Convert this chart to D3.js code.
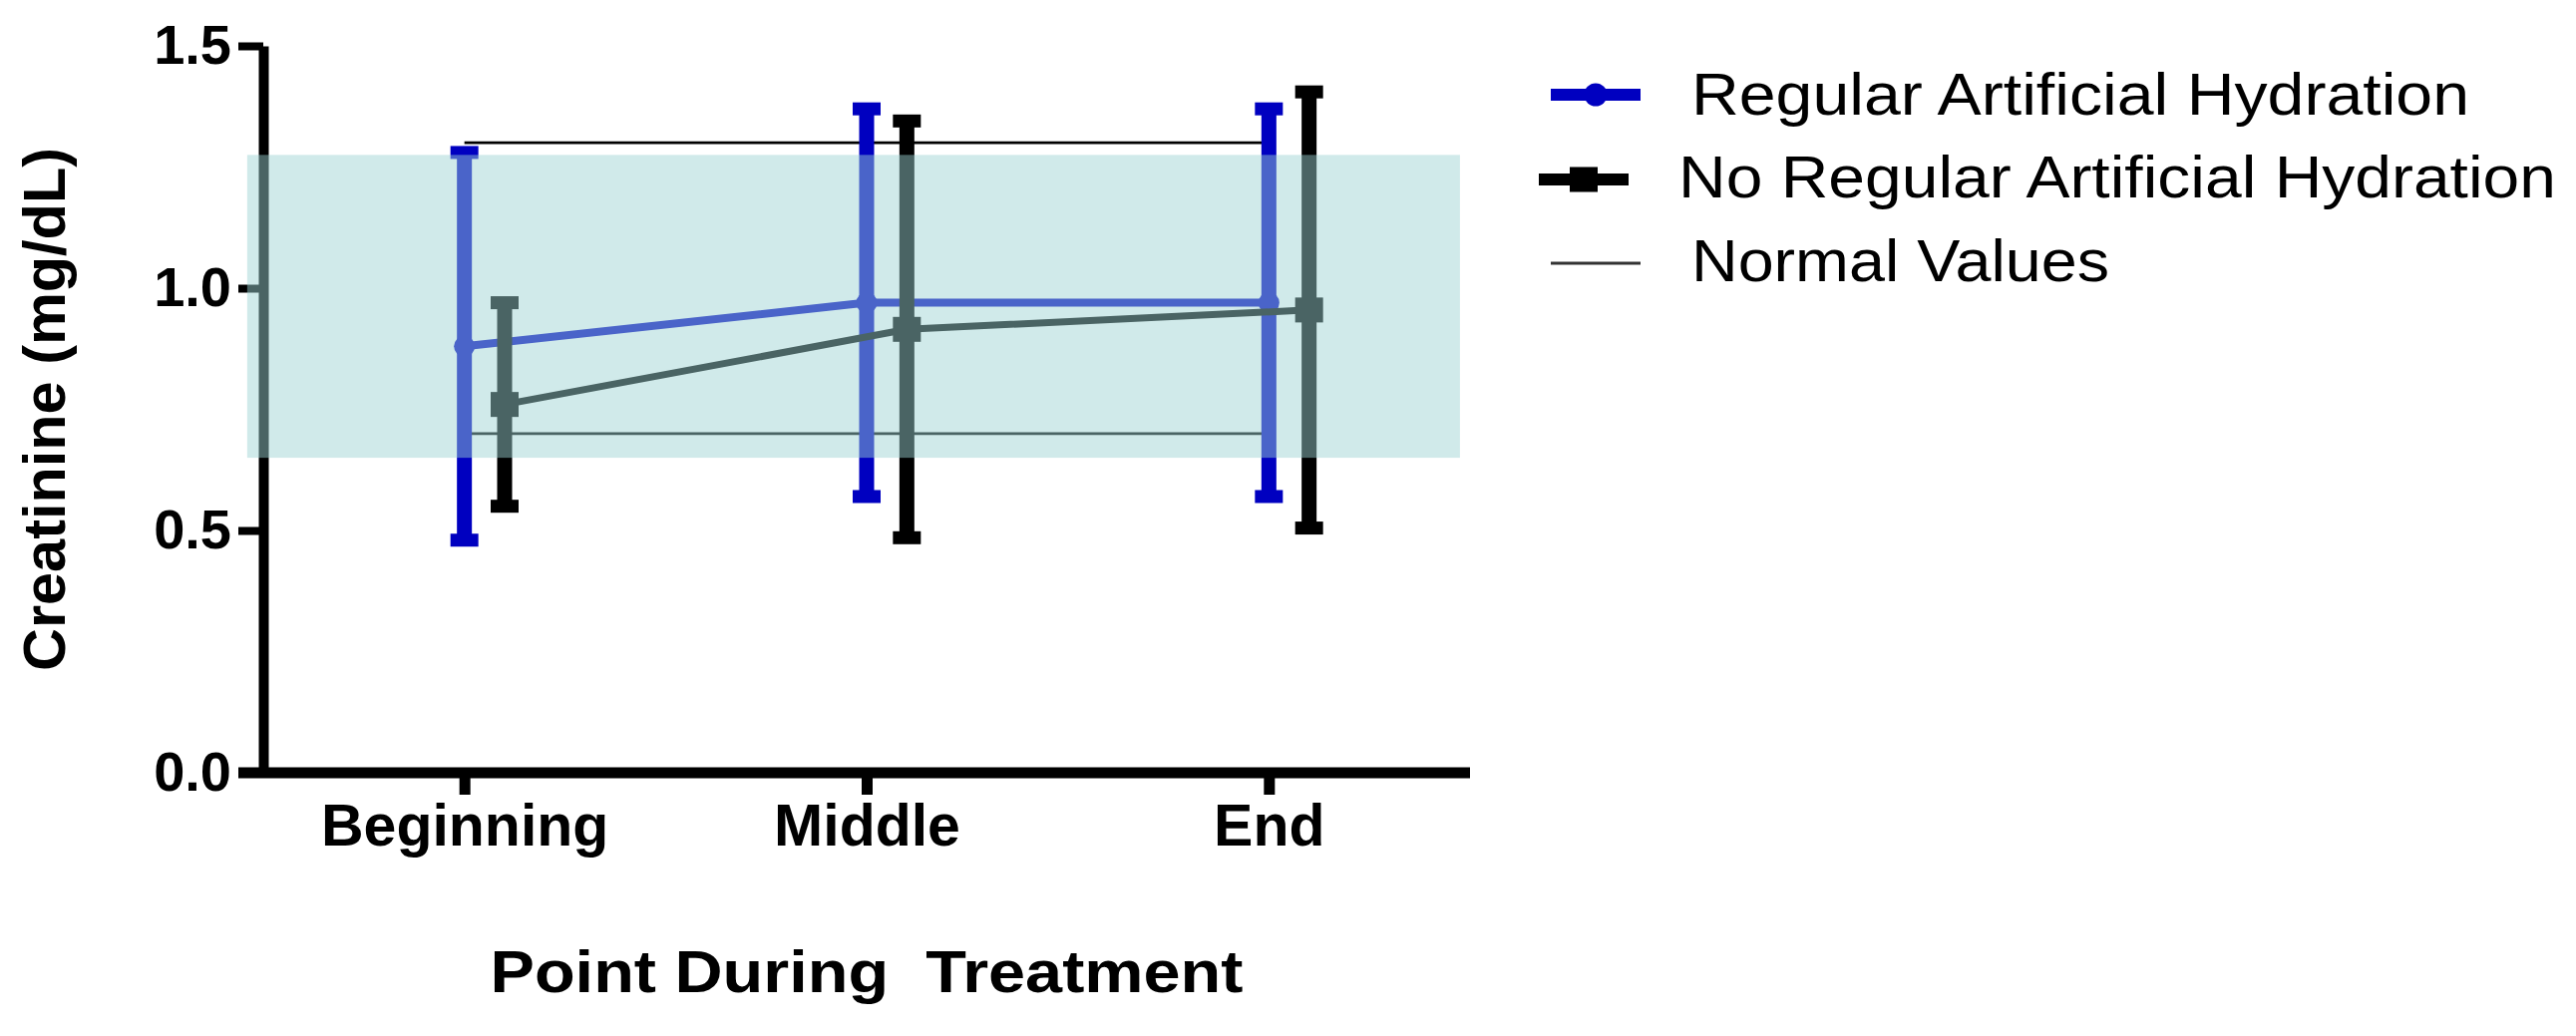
<!DOCTYPE html>
<html>
<head>
<meta charset="utf-8">
<script src="https://cdn.jsdelivr.net/npm/d3@7"></script>
<style>
  body { margin: 0; background: #fff; }
  svg { display: block; }
  text { font-family: "Liberation Sans", Arial, sans-serif; }
</style>
</head>
<body>
<svg id="chart" width="2583" height="1039"></svg>
<script>
// Creatinine (mg/dL) at three points during treatment, mean ± SD
const categories = ["Beginning", "Middle", "End"];
const hydratedMean = [0.88, 0.97, 0.97];
const hydratedSD = [0.40, 0.40, 0.40];
const nonHydratedMean = [0.76, 0.915, 0.955];
const nonHydratedSD = [0.21, 0.43, 0.45];
const normalLimits = [0.70, 1.30];
const normalBand = [0.65, 1.275];
const normalBandSpan = [-0.54, 2.475];
const yTicks = [0, 0.5, 1.0, 1.5];
const seriesNames = ["Regular Artificial Hydration", "No Regular Artificial Hydration", "Normal Values"];

const svg = d3.select("#chart");

const x = d3.scaleLinear().domain([-0.5, 2.5]).range([264, 1474]);
const y = d3.scaleLinear().domain([0, 1.5]).range([775, 46]);

const BLUE = "#0000c0";
const BLACK = "#000000";

// Normal value reference lines (Beginning to End)
svg.append("g").selectAll("line")
  .data(normalLimits)
  .join("line")
  .attr("x1", x(0)).attr("x2", x(categories.length - 1))
  .attr("y1", d => y(d)).attr("y2", d => y(d))
  .attr("stroke", "#000").attr("stroke-width", 2.7);

// Axes
const yAxis = d3.axisLeft(y)
  .tickValues(yTicks)
  .tickFormat(d3.format(".1f"))
  .tickSize(25)
  .tickSizeOuter(0)
  .tickPadding(7);

const gy = svg.append("g")
  .attr("transform", `translate(${x.range()[0]},0)`)
  .call(yAxis);
gy.select(".domain").attr("stroke", "#000").attr("stroke-width", 10);
gy.selectAll(".tick line").attr("stroke", "#000").attr("stroke-width", 8);
gy.selectAll(".tick text")
  .attr("fill", "#000")
  .style("font-size", "56px")
  .style("font-weight", "bold");

const xAxis = d3.axisBottom(x)
  .tickValues(d3.range(categories.length))
  .tickFormat(i => categories[i])
  .tickSize(22)
  .tickSizeOuter(0)
  .tickPadding(9);

const gx = svg.append("g")
  .attr("transform", `translate(0,${y(0)})`)
  .call(xAxis);
gx.select(".domain")
  .attr("d", `M${x.range()[0] - 25},0H${x.range()[1]}`)
  .attr("stroke", "#000").attr("stroke-width", 11);
gx.selectAll(".tick line").attr("stroke", "#000").attr("stroke-width", 11);
gx.selectAll(".tick text")
  .attr("fill", "#000")
  .style("font-size", "59px")
  .style("font-weight", "bold");

// One series: connecting line, SD error bars, markers
function drawSeries(means, sds, offset, color, lineWidth, marker) {
  const g = svg.append("g");
  const pts = means.map((m, i) => ({ i, m, sd: sds[i] }));
  const px = d => x(d.i + offset);

  g.append("path")
    .datum(pts)
    .attr("fill", "none")
    .attr("stroke", color)
    .attr("stroke-width", lineWidth)
    .attr("d", d3.line().x(px).y(d => y(d.m)));

  const bars = g.selectAll(".err").data(pts).join("g").attr("class", "err");
  bars.append("line")
    .attr("x1", px).attr("x2", px)
    .attr("y1", d => y(d.m - d.sd)).attr("y2", d => y(d.m + d.sd))
    .attr("stroke", color).attr("stroke-width", 15);
  [-1, 1].forEach(s => {
    bars.append("line")
      .attr("x1", d => px(d) - 14).attr("x2", d => px(d) + 14)
      .attr("y1", d => y(d.m + s * d.sd)).attr("y2", d => y(d.m + s * d.sd))
      .attr("stroke", color).attr("stroke-width", 13);
  });

  if (marker === "circle") {
    g.selectAll(".mk").data(pts).join("circle")
      .attr("class", "mk")
      .attr("cx", px).attr("cy", d => y(d.m))
      .attr("r", 10.5)
      .attr("fill", color);
  } else {
    g.selectAll(".mk").data(pts).join("rect")
      .attr("class", "mk")
      .attr("x", d => px(d) - 14).attr("y", d => y(d.m) - 12.5)
      .attr("width", 28).attr("height", 25)
      .attr("fill", color);
  }
}

drawSeries(hydratedMean, hydratedSD, 0, BLUE, 8, "circle");
drawSeries(nonHydratedMean, nonHydratedSD, 0.1, BLACK, 7, "square");

// Normal range shading, laid over the data
svg.append("rect")
  .attr("x", x(normalBandSpan[0]))
  .attr("width", x(normalBandSpan[1]) - x(normalBandSpan[0]))
  .attr("y", y(normalBand[1]))
  .attr("height", y(normalBand[0]) - y(normalBand[1]))
  .attr("fill", "rgb(156,211,211)")
  .attr("fill-opacity", 0.475);

// Axis titles
svg.append("text")
  .attr("transform", `translate(65,${(y.range()[0] + y.range()[1]) / 2}) rotate(-90)`)
  .attr("text-anchor", "middle")
  .attr("textLength", 525)
  .attr("lengthAdjust", "spacingAndGlyphs")
  .style("font-size", "60px")
  .style("font-weight", "bold")
  .text("Creatinine (mg/dL)");

svg.append("text")
  .attr("x", x(1)).attr("y", 995)
  .attr("text-anchor", "middle")
  .attr("textLength", 755)
  .attr("lengthAdjust", "spacingAndGlyphs")
  .style("white-space", "pre")
  .style("font-size", "60px")
  .style("font-weight", "bold")
  .text("Point During  Treatment");

// Legend
const legend = svg.append("g");
const legendRows = [
  { name: seriesNames[0], y: 95, x0: 1555, x1: 1645, tx: 1696, base: 115, len: 780, color: BLUE, w: 12, mark: "circle" },
  { name: seriesNames[1], y: 180, x0: 1543, x1: 1633, tx: 1683, base: 198, len: 880, color: BLACK, w: 12, mark: "square" },
  { name: seriesNames[2], y: 264, x0: 1555, x1: 1645, tx: 1696, base: 282, len: 419, color: "#333", w: 3, mark: null }
];
legendRows.forEach(r => {
  legend.append("line")
    .attr("x1", r.x0).attr("x2", r.x1)
    .attr("y1", r.y).attr("y2", r.y)
    .attr("stroke", r.color).attr("stroke-width", r.w);
  const cx = (r.x0 + r.x1) / 2;
  if (r.mark === "circle") {
    legend.append("circle").attr("cx", cx).attr("cy", r.y).attr("r", 11.5).attr("fill", r.color);
  } else if (r.mark === "square") {
    legend.append("rect").attr("x", cx - 14).attr("y", r.y - 12.5)
      .attr("width", 28).attr("height", 25).attr("fill", r.color);
  }
  legend.append("text")
    .attr("x", r.tx).attr("y", r.base)
    .attr("textLength", r.len)
    .attr("lengthAdjust", "spacingAndGlyphs")
    .style("font-size", "60px")
    .text(r.name);
});
</script>
</body>
</html>
